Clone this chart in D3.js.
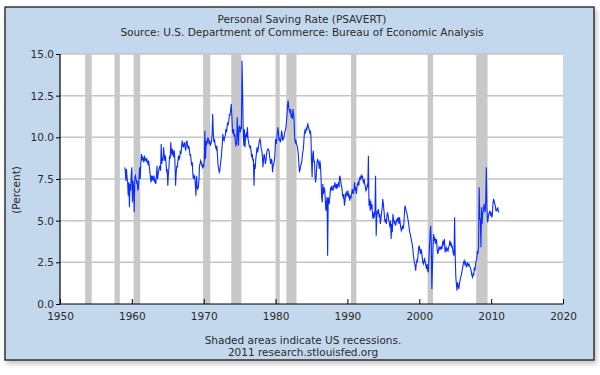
<!DOCTYPE html>
<html><head><meta charset="utf-8">
<script src="https://cdn.jsdelivr.net/npm/d3@7"></script>
<style>body{margin:0;background:#fff}svg{display:block}</style>
</head><body>
<svg id="chart" width="600" height="375"></svg>
<script>
// ---------- text ----------
const titleText = "Personal Saving Rate (PSAVERT)";
const subtitleText = "Source: U.S. Department of Commerce: Bureau of Economic Analysis";
const footerLine1 = "Shaded areas indicate US recessions.";
const footerLine2 = "2011 research.stlouisfed.org";
const yAxisLabel = "(Percent)";

// ---------- ticks ----------
const xTickYears = [1950, 1960, 1970, 1980, 1990, 2000, 2010, 2020];
const yTickValues = [0, 2.5, 5, 7.5, 10, 12.5, 15];

// ---------- recessions (first month, last month) ----------
const recessionStarts = ["1953-07","1957-08","1960-04","1969-12","1973-11","1980-01","1981-07","1990-07","2001-03","2007-12"];
const recessionEnds   = ["1954-05","1958-04","1961-02","1970-11","1975-03","1980-07","1982-11","1991-03","2001-11","2009-06"];

// ---------- monthly series, starting January 1959 ----------
const firstMonth = "1959-01";
const rate1950s = [8.2,8.0,7.4,8.1,7.6,7.3,6.5,7.3,5.8,7.2,6.8,7.8];
const rate1960s = [
  8.2,6.1,7.4,7.0,5.5,7.6,7.7,7.5,7.3,7.4,6.8,7.0,
  7.6,8.2,7.5,8.4,9.0,8.6,8.8,8.7,8.5,8.9,8.6,8.7,
  8.6,8.7,8.5,8.4,8.6,8.3,8.0,7.6,7.3,7.7,7.4,7.6,
  7.5,7.7,7.3,7.4,7.2,7.6,8.3,7.5,7.8,8.0,8.2,8.3,
  8.0,9.6,8.4,8.8,8.6,9.4,9.0,8.6,8.9,8.5,7.9,8.1,
  7.1,7.8,8.2,8.9,8.7,9.7,9.2,8.9,9.3,9.1,8.8,9.2,
  8.5,7.1,7.8,8.3,8.2,8.6,8.9,8.7,8.8,9.2,9.0,9.4,
  9.8,9.5,9.4,9.6,9.7,9.4,9.2,9.7,9.8,9.5,9.3,9.5,
  9.3,8.9,9.0,8.6,8.3,8.5,7.7,7.5,7.7,7.6,7.2,6.5,
  7.7,7.0,6.9,7.0,7.4,8.3,8.4,8.6,8.5,8.3,8.2,8.4
];
const rate1970s = [
  8.2,8.7,10.4,8.7,9.8,9.6,9.7,10.0,9.9,9.6,9.8,9.5,
  9.6,9.8,10.1,11.4,10.3,9.7,9.9,9.6,9.4,9.3,9.5,8.9,
  8.3,8.1,7.9,8.0,8.4,8.7,9.1,9.6,10.2,9.9,9.8,10.0,
  10.1,10.5,10.3,10.6,10.9,10.8,11.0,11.4,11.3,11.6,12.0,11.3,
  10.4,10.2,10.5,10.0,10.2,9.7,9.5,9.6,11.2,10.2,9.5,10.6,
  10.7,10.3,10.6,10.5,14.6,12.8,10.4,9.5,10.5,9.4,10.1,10.2,
  10.0,10.6,9.9,9.7,9.5,9.4,9.5,9.2,8.8,9.0,8.6,8.7,
  7.1,8.4,8.1,8.7,9.0,9.4,9.1,9.3,9.6,9.8,9.9,9.7,
  9.3,9.2,8.9,8.2,8.7,9.0,8.8,8.4,8.6,9.0,9.2,9.3,
  9.3,9.2,8.9,8.6,8.4,8.7,8.6,7.9,8.3,8.4,8.6,9.0
];
const rate1980s = [
  9.9,9.6,9.8,10.3,10.6,10.2,9.8,9.9,9.7,9.9,10.4,10.2,
  9.8,9.9,10.0,10.2,10.4,10.5,10.8,11.3,11.9,12.2,11.8,11.6,
  11.5,11.7,11.2,11.4,11.1,11.7,11.4,11.0,9.9,9.7,9.8,9.6,
  9.5,9.3,9.0,8.4,7.9,8.1,8.3,8.4,8.6,9.0,9.2,9.6,
  10.2,10.4,10.3,10.5,10.4,10.7,10.8,10.6,10.5,10.3,10.4,10.1,
  8.6,7.6,8.9,9.2,8.5,8.6,7.6,7.3,7.8,8.4,8.7,8.6,
  8.4,8.1,8.6,8.3,7.6,6.4,6.1,7.2,6.6,7.0,6.9,6.3,
  5.6,6.1,6.4,2.9,6.4,6.0,6.1,6.6,7.0,6.8,7.1,6.9,
  6.8,7.1,7.0,7.3,7.1,6.9,7.2,7.0,7.1,7.3,7.0,7.7,
  7.6,7.3,7.1,6.9,6.5,6.4,6.6,5.9,6.2,6.6,6.7,6.5
];
const rate1990s = [
  6.6,6.8,6.4,6.6,6.2,6.5,6.4,6.6,6.9,6.7,6.6,6.9,
  7.3,6.8,7.0,6.6,7.0,7.2,7.3,7.1,7.5,7.6,7.5,7.7,
  7.6,7.7,7.4,7.3,7.5,7.2,7.0,6.8,6.9,7.1,7.0,8.9,
  5.9,6.3,5.6,6.2,5.7,6.0,5.3,5.1,5.5,5.2,5.6,7.7,
  4.1,5.2,5.6,5.4,5.7,5.2,5.4,4.8,5.1,5.5,5.7,6.3,
  6.0,5.6,5.2,4.9,5.1,4.8,5.3,5.5,5.3,5.0,4.9,4.6,
  5.0,3.9,4.8,4.3,5.4,5.1,4.9,5.0,4.7,4.8,5.0,5.1,
  5.0,5.2,4.8,5.2,4.9,4.6,4.4,4.5,4.7,4.5,4.7,5.3,
  5.9,5.8,5.6,5.5,5.3,5.1,4.9,4.6,4.3,4.2,4.0,3.8,
  3.6,3.4,3.0,2.7,2.5,2.3,2.0,2.4,2.6,2.5,3.0,3.4
];
const rate2000s = [
  3.5,3.2,3.0,3.3,3.1,2.8,2.5,2.4,2.6,2.7,2.5,2.3,
  2.1,2.4,2.0,1.9,2.6,3.4,4.2,4.7,3.6,0.9,2.3,3.4,
  4.2,3.8,4.0,3.6,3.9,3.8,3.2,3.0,3.2,3.4,3.3,3.4,
  3.3,3.4,3.3,3.7,3.8,3.5,3.9,3.1,3.3,3.4,3.2,3.3,
  3.2,3.4,3.5,3.8,3.5,3.7,3.4,3.5,3.2,3.0,2.9,5.2,
  2.8,1.6,1.2,0.8,1.3,1.1,0.9,1.2,1.4,1.6,1.7,1.9,
  2.1,2.3,2.5,2.6,2.4,2.5,2.3,2.2,2.5,2.4,2.3,2.4,
  2.3,2.2,2.1,1.9,1.7,1.6,1.8,1.7,2.2,2.0,2.4,2.6,
  2.7,3.2,3.0,3.4,7.0,5.2,5.0,3.4,5.8,4.8,5.5,5.6,
  6.0,5.7,5.5,6.2,8.2,5.8,4.9,5.1,5.4,5.5,5.6,5.3
];
const rate2010s = [
  5.5,5.2,5.3,6.0,6.3,6.2,6.0,5.9,5.6,5.6,5.7,5.8,
  5.5,5.6
];

// ---------- build ----------
const parseMonth = d3.timeParse("%Y-%m");
const values = [].concat(rate1950s, rate1960s, rate1970s, rate1980s, rate1990s, rate2000s, rate2010s);
const start = parseMonth(firstMonth);
const series = values.map((v, i) => ({ date: d3.timeMonth.offset(start, i), value: v }));
const recessions = recessionStarts.map((s, i) => ({
  start: parseMonth(s),
  end: d3.timeMonth.offset(parseMonth(recessionEnds[i]), 1)
}));

const svg = d3.select("#chart");
const W = 600, H = 375;
const panel = { x: 5, y: 7, w: 589, h: 353 };
const plot = { left: 60, right: 563, top: 54, bottom: 304 };

const defs = svg.append("defs");
const f = defs.append("filter").attr("id", "shadow").attr("x", "-5%").attr("y", "-5%").attr("width", "115%").attr("height", "115%");
f.append("feDropShadow").attr("dx", 2).attr("dy", 3).attr("stdDeviation", 2.5).attr("flood-color", "#000").attr("flood-opacity", 0.25);

svg.append("rect").attr("x", panel.x).attr("y", panel.y).attr("width", panel.w).attr("height", panel.h)
  .attr("fill", "#c3d8ec").attr("stroke", "#1a1a1a").attr("stroke-width", 1.3).attr("filter", "url(#shadow)");

const x = d3.scaleTime()
  .domain([new Date(xTickYears[0], 0, 1), new Date(xTickYears[xTickYears.length - 1], 0, 1)])
  .range([plot.left, plot.right]);
const y = d3.scaleLinear().domain([0, 15]).range([plot.bottom, plot.top]);

// plot background
svg.append("rect").attr("x", plot.left).attr("y", plot.top)
  .attr("width", plot.right - plot.left).attr("height", plot.bottom - plot.top).attr("fill", "#fff");

// gridlines
svg.append("g").selectAll("line").data(yTickValues.filter(v => v > 0)).join("line")
  .attr("x1", plot.left).attr("x2", plot.right)
  .attr("y1", d => y(d)).attr("y2", d => y(d))
  .attr("stroke", "#c4c4c4").attr("stroke-width", 1.5);

// recession bands
svg.append("g").selectAll("rect").data(recessions).join("rect")
  .attr("x", d => x(d.start)).attr("width", d => x(d.end) - x(d.start))
  .attr("y", plot.top).attr("height", plot.bottom - plot.top)
  .attr("fill", "#c8c8c8");

// line
const line = d3.line().x(d => x(d.date)).y(d => y(d.value));
svg.append("path").datum(series).attr("d", line)
  .attr("fill", "none").attr("stroke", "#0a2cff").attr("stroke-width", 1.1).attr("stroke-linejoin", "miter");

const font = "DejaVu Sans, Verdana, sans-serif";
const textColor = "#2b2b2b";

// y axis
const yAxis = d3.axisLeft(y).tickValues(yTickValues).tickFormat(d3.format(".1f")).tickSize(4).tickPadding(2);
const gy = svg.append("g").attr("transform", `translate(${plot.left},0)`).call(yAxis);
gy.select(".domain").remove();
gy.selectAll(".tick line").attr("stroke", "#000");
gy.selectAll(".tick text").attr("font-family", font).attr("font-size", 10.5).attr("fill", textColor);
svg.append("line").attr("x1", plot.left).attr("x2", plot.left).attr("y1", plot.top).attr("y2", plot.bottom + 0.5)
  .attr("stroke", "#000").attr("stroke-width", 1.2);

// x axis
const xAxis = d3.axisBottom(x).tickValues(xTickYears.map(yr => new Date(yr, 0, 1)))
  .tickFormat(d3.timeFormat("%Y")).tickSizeInner(-5).tickSizeOuter(0).tickPadding(9);
const gx = svg.append("g").attr("transform", `translate(0,${plot.bottom})`).call(xAxis);
gx.select(".domain").remove();
gx.selectAll(".tick line").attr("stroke", "#000");
gx.selectAll(".tick text").attr("font-family", font).attr("font-size", 10.5).attr("fill", textColor);
svg.append("line").attr("x1", plot.left).attr("x2", plot.right + 0.5).attr("y1", plot.bottom).attr("y2", plot.bottom)
  .attr("stroke", "#000").attr("stroke-width", 1.2);

// titles
svg.append("text").attr("x", 302).attr("y", 23).attr("text-anchor", "middle")
  .attr("font-family", font).attr("font-size", 10.5).attr("fill", textColor).text(titleText);
svg.append("text").attr("x", 302).attr("y", 36).attr("text-anchor", "middle")
  .attr("font-family", font).attr("font-size", 10.5).attr("fill", textColor).text(subtitleText);
svg.append("text").attr("x", 303).attr("y", 344).attr("text-anchor", "middle")
  .attr("font-family", font).attr("font-size", 10.5).attr("fill", textColor).text(footerLine1);
svg.append("text").attr("x", 303).attr("y", 356).attr("text-anchor", "middle")
  .attr("font-family", font).attr("font-size", 10.5).attr("fill", textColor).text(footerLine2);
svg.append("text").attr("transform", "translate(20,190) rotate(-90)").attr("text-anchor", "middle")
  .attr("font-family", font).attr("font-size", 10.5).attr("fill", textColor).text(yAxisLabel);
</script>
</body></html>
